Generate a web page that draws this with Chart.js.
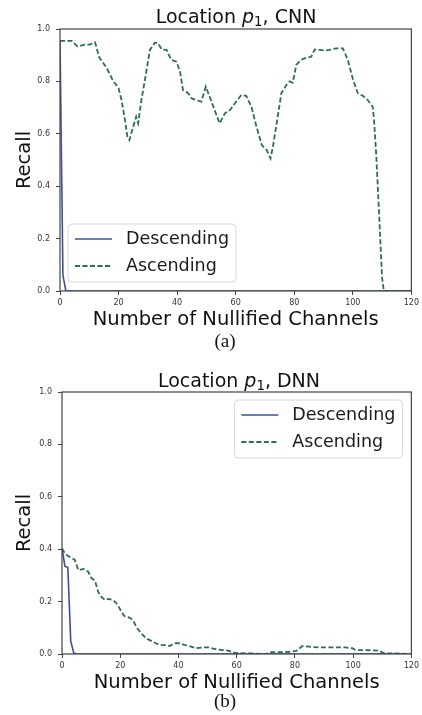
<!DOCTYPE html>
<html>
<head>
<meta charset="utf-8">
<script src="https://cdn.jsdelivr.net/npm/chart.js@4.4.1/dist/chart.umd.min.js"></script>
<style>
  body {
    margin: 0;
    background: #fff;
    width: 422px;
    height: 715px;
    position: relative;
    overflow: hidden;
  }
  canvas.plot {
    position: absolute;
    left: 0;
  }
  .title {
    position: absolute;
    text-align: center;
    font: 19px/19px "DejaVu Sans";
    color: #111;
    white-space: nowrap;
  }
  .title sub {
    font-size: 0.7em;
    line-height: 0;
    vertical-align: -0.22em;
  }
  .caption {
    position: absolute;
    left: 200px;
    width: 50px;
    text-align: center;
    font: 19px/19px "Liberation Serif";
    color: #111;
  }
</style>
</head>
<body>

<canvas id="chartA" class="plot" width="422" height="335" style="top:0"></canvas>
<canvas id="chartB" class="plot" width="422" height="335" style="top:360px"></canvas>

<div class="title" style="left:60px; width:352px; top:7px">Location <i>p</i><sub>1</sub>, CNN</div>
<div class="caption" style="top:331px">(a)</div>

<div class="title" style="left:62px; width:354px; top:370.5px">Location <i>p</i><sub>1</sub>, DNN</div>
<div class="caption" style="top:691px">(b)</div>

<script>

// =========================
// DATA
// =========================

const xTicks = [0, 20, 40, 60, 80, 100, 120];
const yTicks = [0.0, 0.2, 0.4, 0.6, 0.8, 1.0];

// CNN, descending order
const desA_x = [0, 1, 2, 120];
const desA_y = [0.955, 0.06, 0, 0];

// CNN, ascending order
const ascA_x = [
  0, 4, 6, 8.5, 10, 12, 13.3, 16, 18, 20,
  21, 22.2, 23, 23.7, 25, 26, 26.7, 27.8, 29.2, 30.7,
  32.4, 33.5, 34.7, 36.4, 38, 39.8, 41, 42, 43.8, 45,
  46.6, 48.3, 49.8, 51.1, 52.8, 54.5, 56.3, 58, 60.2, 61.9,
  63.6, 65.4, 67.1, 68.9, 70.6, 71.9, 72.7, 74, 75.6, 77.3,
  78.4, 79.5, 80.7, 82.4, 84.1, 85.8, 87, 88.6, 90.3, 92,
  94.3, 96.6, 98.3, 100, 101.7, 103.4, 105.1, 106.8, 107.2, 108,
  109, 110, 110.6, 120
];
const ascA_y = [
  0.955, 0.955, 0.933, 0.94, 0.94, 0.949, 0.894, 0.85, 0.805, 0.774,
  0.729, 0.653, 0.589, 0.576, 0.627, 0.665, 0.64, 0.729, 0.818, 0.92,
  0.948, 0.946, 0.922, 0.92, 0.882, 0.875, 0.837, 0.767, 0.755, 0.735,
  0.729, 0.723, 0.78, 0.742, 0.691, 0.64, 0.678, 0.69, 0.723, 0.748,
  0.745, 0.703, 0.627, 0.557, 0.538, 0.506, 0.55, 0.64, 0.755, 0.786,
  0.80, 0.795, 0.863, 0.883, 0.89, 0.894, 0.922, 0.92, 0.918, 0.92,
  0.926, 0.926, 0.882, 0.81, 0.755, 0.745, 0.729, 0.703, 0.66, 0.52,
  0.29, 0.05, 0, 0
];

// DNN, descending order
const desB_x = [0, 1, 2, 3, 4, 5, 120];
const desB_y = [0.403, 0.335, 0.33, 0.05, 0.005, 0, 0];

// DNN, ascending order
const ascB_x = [
  0, 1, 2, 4.4, 5.6, 7.4, 9, 10.1, 11.3, 12.4,
  13.5, 14.7, 15.9, 17.6, 19.2, 20.4, 21.5, 23.3, 24.4, 25.5,
  27.2, 28.9, 31.2, 33.5, 35.8, 37, 38.6, 40.3, 42, 43.8,
  46.1, 48.3, 50.6, 53, 55.2, 57.5, 58.7, 61, 65.6, 70.1,
  71.3, 74.7, 78.2, 80.5, 82.5, 84.8, 88.2, 92.8, 97.4, 99.7,
  100.9, 104.3, 108.8, 110.6, 120
];
const ascB_y = [
  0.403, 0.384, 0.375, 0.359, 0.32, 0.325, 0.314, 0.29, 0.28, 0.238,
  0.219, 0.206, 0.21, 0.206, 0.187, 0.161, 0.144, 0.138, 0.13, 0.104,
  0.079, 0.06, 0.047, 0.034, 0.034, 0.03, 0.041, 0.041, 0.035, 0.03,
  0.022, 0.025, 0.025, 0.018, 0.015, 0.012, 0.005, 0.003, 0.002, 0.0,
  0.007, 0.007, 0.008, 0.012, 0.03, 0.028, 0.025, 0.025, 0.025, 0.022,
  0.015, 0.015, 0.013, 0.003, 0
];

const seriesLabels = ['Descending', 'Ascending'];
const descColor = '#3d4f9c';
const ascColor = '#2b6f52';

Chart.defaults.font.family = '"DejaVu Sans"';


// =========================
// PLUGINS
// =========================

// box round the plot area, drawn over the lines like axes spines
const frame = {
  id: 'frame',
  afterDatasetsDraw(chart) {
    const { ctx, chartArea: a } = chart;
    ctx.save();
    ctx.strokeStyle = '#444';
    ctx.lineWidth = 1.2;
    ctx.strokeRect(a.left, a.top, a.right - a.left, a.bottom - a.top);
    ctx.restore();
  }
};

// legend box inside the plot area
const boxLegend = {
  id: 'boxLegend',
  afterDraw(chart, args, opts) {
    const { ctx, chartArea: a } = chart;
    const sets = chart.data.datasets;

    ctx.save();
    ctx.font = '17.5px "DejaVu Sans"';

    const textW = Math.max(
      ...sets.map(d => ctx.measureText(d.label).width)
    );
    const w = 7 + 37 + 14 + textW + 7;
    const rowH = 27;
    const h = 15 + rowH * (sets.length - 1) + 16;

    const x = opts.corner === 'bl' ? a.left + 8 : a.right - 9 - w;
    const y = opts.corner === 'bl' ? a.bottom - 9 - h : a.top + 8;

    ctx.beginPath();
    ctx.roundRect(x, y, w, h, 4);
    ctx.fillStyle = 'rgba(255,255,255,0.85)';
    ctx.fill();
    ctx.strokeStyle = '#d8d8d8';
    ctx.lineWidth = 1;
    ctx.stroke();

    sets.forEach((d, i) => {
      const cy = y + 15 + i * rowH;

      ctx.beginPath();
      ctx.strokeStyle = d.borderColor;
      ctx.lineWidth = d.borderWidth;
      ctx.setLineDash(d.borderDash || []);
      ctx.moveTo(x + 7, cy);
      ctx.lineTo(x + 44, cy);
      ctx.stroke();
      ctx.setLineDash([]);

      ctx.fillStyle = '#1a1a1a';
      ctx.textBaseline = 'middle';
      ctx.textAlign = 'left';
      ctx.fillText(d.label, x + 58, cy);
    });

    ctx.restore();
  }
};


// =========================
// CHART BUILDER
// =========================

function points(xs, ys) {
  return xs.map((x, i) => ({ x: x, y: ys[i] }));
}

function makeChart(id, desc, asc, box) {

  new Chart(document.getElementById(id), {

    type: 'line',

    data: {
      datasets: [
        {
          label: seriesLabels[0],
          data: points(desc[0], desc[1]),
          borderColor: descColor,
          borderWidth: 1.6,
          pointRadius: 0,
          tension: 0
        },
        {
          label: seriesLabels[1],
          data: points(asc[0], asc[1]),
          borderColor: ascColor,
          borderWidth: 1.8,
          borderDash: [5, 2.5],
          pointRadius: 0,
          tension: 0
        }
      ]
    },

    options: {
      responsive: false,
      animation: false,
      devicePixelRatio: 1,
      layout: {
        padding: { top: box.top, right: box.right, left: 0, bottom: 0 }
      },
      plugins: {
        legend: { display: false },
        tooltip: { enabled: false },
        boxLegend: { corner: box.legend }
      },
      scales: {
        x: {
          type: 'linear',
          min: xTicks[0],
          max: xTicks[xTicks.length - 1],
          afterBuildTicks(s) {
            s.ticks = xTicks.map(v => ({ value: v }));
          },
          ticks: {
            font: { size: 8 },
            color: '#333',
            padding: 3,
            maxRotation: 0
          },
          grid: {
            drawOnChartArea: false,
            tickLength: 4,
            color: '#444'
          },
          border: { display: false },
          title: {
            display: true,
            text: 'Number of Nullified Channels',
            font: { size: 19.5 },
            color: '#111',
            padding: { top: 0, bottom: box.xTitlePad }
          },
          afterFit(s) {
            s.height = box.xAxisH;
          }
        },
        y: {
          type: 'linear',
          min: yTicks[0],
          max: yTicks[yTicks.length - 1],
          afterBuildTicks(s) {
            s.ticks = yTicks.map(v => ({ value: v }));
          },
          ticks: {
            font: { size: 8 },
            color: '#333',
            padding: 6,
            callback: v => v.toFixed(1)
          },
          grid: {
            drawOnChartArea: false,
            tickLength: 4,
            color: '#444'
          },
          border: { display: false },
          title: {
            display: true,
            text: 'Recall',
            font: { size: 19.5 },
            color: '#111',
            padding: { top: 13, bottom: 0 }
          },
          afterFit(s) {
            s.width = box.yAxisW;
          }
        }
      }
    },

    plugins: [frame, boxLegend]
  });
}


// =========================
// CHARTS
// =========================

makeChart('chartA', [desA_x, desA_y], [ascA_x, ascA_y], {
  top: 29, right: 10, yAxisW: 60, xAxisH: 44, xTitlePad: 3.3, legend: 'bl'
});

makeChart('chartB', [desB_x, desB_y], [ascB_x, ascB_y], {
  top: 32, right: 9, yAxisW: 62, xAxisH: 41, xTitlePad: 0.8, legend: 'tr'
});

</script>
</body>
</html>
